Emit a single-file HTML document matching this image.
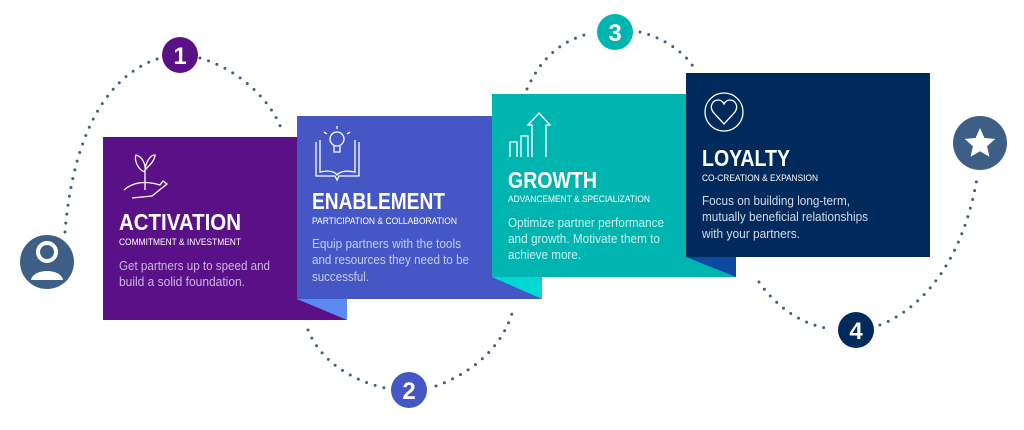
<!DOCTYPE html>
<html><head><meta charset="utf-8"><style>
html,body{margin:0;padding:0;background:#fff;}
svg{display:block;font-family:"Liberation Sans",sans-serif;}
.t{font-weight:bold;fill:#fff;font-size:23px;}
.s{fill:#fff;font-size:9.5px;}
.b{font-size:12.5px;}
</style></head><body>
<svg width="1024" height="430" viewBox="0 0 1024 430" xmlns="http://www.w3.org/2000/svg">
<g fill="none" stroke="#3e5f85" stroke-width="3" stroke-linecap="round" stroke-dasharray="0 9">
<path d="M65 232 C70 170 90 80 160 58"/>
<path d="M200 58 C240 70 270 100 281 128"/>
<path d="M308 330 C320 360 350 380 385 388"/>
<path d="M436 386 C480 370 505 340 513 310"/>
<path d="M527 89 C540 60 560 40 592 33"/>
<path d="M640 32 C665 38 688 55 695 70"/>
<path d="M759 282 C775 305 800 325 832 329"/>
<path d="M880 325 C930 305 965 250 977 178"/>
</g>
<rect x="103" y="137" width="244" height="183" fill="#5a1086"/>
<rect x="297" y="116" width="245" height="183" fill="#4457c4"/>
<polygon points="297,299 347,299 347,320" fill="#5b8af5"/>
<rect x="492" y="94" width="244" height="183" fill="#00b5b0"/>
<polygon points="492,277 542,277 542,299" fill="#00d8d4"/>
<rect x="686" y="73" width="244" height="184" fill="#002a5c"/>
<polygon points="686,257 736,257 736,277" fill="#0b4aa0"/>

<g fill="none" stroke="#fff" stroke-width="1.3">
<path d="M124 190 C135 180 150 182 160 185 L163 181 L167 184 L152 196 L132 198"/>
<path d="M145 190 L145 170 M145 172 C138 170 134 160 136 155 C143 157 146 165 145 172 M145 170 C150 165 155 160 155 155 C150 155 146 162 145 170"/>
<path d="M316 142 L316 176 L335 176 L337 180 L339 176 L359 176 L359 142 M320 140 L320 172 C330 170 335 172 337 175 C339 172 345 170 355 172 L355 140"/>
<circle cx="337" cy="139" r="7"/><path d="M334 146 L334 152 L340 152 L340 146"/>
<path d="M324 132 L327 134 M337 126 L337 129 M350 132 L347 134"/>
<path d="M510 157 L510 142 L517 142 L517 157 M521 157 L521 136 L528 136 L528 157 M532 157 L532 125 L528 125 L539 113 L550 125 L546 125 L546 157"/>
<circle cx="724" cy="112" r="19"/>
<path d="M724 124 L713 112 C709 106 713 100 718 100 C721 100 723 102 724 104 C725 102 727 100 730 100 C735 100 739 106 735 112 Z"/>
</g>

<text x="119" y="230" class="t" textLength="122" lengthAdjust="spacingAndGlyphs">ACTIVATION</text>
<text x="119" y="245" class="s" textLength="122" lengthAdjust="spacingAndGlyphs">COMMITMENT &amp; INVESTMENT</text>
<text x="119" y="270" class="b" fill="#cdb6e0" textLength="151" lengthAdjust="spacingAndGlyphs">Get partners up to speed and</text>
<text x="119" y="286" class="b" fill="#cdb6e0" textLength="126" lengthAdjust="spacingAndGlyphs">build a solid foundation.</text>

<text x="312" y="209" class="t" textLength="133" lengthAdjust="spacingAndGlyphs">ENABLEMENT</text>
<text x="312" y="224" class="s" textLength="145" lengthAdjust="spacingAndGlyphs">PARTICIPATION &amp; COLLABORATION</text>
<text x="312" y="248" class="b" fill="#c6cdf0" textLength="149" lengthAdjust="spacingAndGlyphs">Equip partners with the tools</text>
<text x="312" y="264" class="b" fill="#c6cdf0" textLength="157" lengthAdjust="spacingAndGlyphs">and resources they need to be</text>
<text x="312" y="281" class="b" fill="#c6cdf0" textLength="57" lengthAdjust="spacingAndGlyphs">successful.</text>

<text x="508" y="188" class="t" textLength="89" lengthAdjust="spacingAndGlyphs">GROWTH</text>
<text x="508" y="202" class="s" textLength="142" lengthAdjust="spacingAndGlyphs">ADVANCEMENT &amp; SPECIALIZATION</text>
<text x="508" y="227" class="b" fill="#c6f0ee" textLength="156" lengthAdjust="spacingAndGlyphs">Optimize partner performance</text>
<text x="508" y="243" class="b" fill="#c6f0ee" textLength="152" lengthAdjust="spacingAndGlyphs">and growth. Motivate them to</text>
<text x="508" y="259" class="b" fill="#c6f0ee" textLength="73" lengthAdjust="spacingAndGlyphs">achieve more.</text>

<text x="702" y="166" class="t" textLength="88" lengthAdjust="spacingAndGlyphs">LOYALTY</text>
<text x="702" y="181" class="s" textLength="116" lengthAdjust="spacingAndGlyphs">CO-CREATION &amp; EXPANSION</text>
<text x="702" y="205" class="b" fill="#d3dbe8" textLength="148" lengthAdjust="spacingAndGlyphs">Focus on building long-term,</text>
<text x="702" y="221" class="b" fill="#d3dbe8" textLength="166" lengthAdjust="spacingAndGlyphs">mutually beneficial relationships</text>
<text x="702" y="238" class="b" fill="#d3dbe8" textLength="98" lengthAdjust="spacingAndGlyphs">with your partners.</text>

<circle cx="180" cy="55" r="18" fill="#5a1086"/>
<text x="180" y="64" text-anchor="middle" font-size="24" font-weight="bold" fill="#fff">1</text>
<circle cx="409" cy="390" r="18" fill="#4457c4"/>
<text x="409" y="399" text-anchor="middle" font-size="24" font-weight="bold" fill="#fff">2</text>
<circle cx="615" cy="32" r="18" fill="#00b5b0"/>
<text x="615" y="41" text-anchor="middle" font-size="24" font-weight="bold" fill="#fff">3</text>
<circle cx="856" cy="330" r="18" fill="#002a5c"/>
<text x="856" y="339" text-anchor="middle" font-size="24" font-weight="bold" fill="#fff">4</text>

<circle cx="47" cy="262" r="27" fill="#3e5f85"/>
<circle cx="47" cy="252" r="9" fill="none" stroke="#fff" stroke-width="4"/>
<path d="M31 280 C33 268 61 268 63 280 Z" fill="#fff"/>
<circle cx="980" cy="143" r="27" fill="#3e5f85"/>
<polygon fill="#fff" points="980,128 984.4,137.9 995.2,139 987.1,146.2 989.4,156.8 980,151.3 970.6,156.8 972.9,146.2 964.8,139 975.6,137.9"/>
</svg>
</body></html>
